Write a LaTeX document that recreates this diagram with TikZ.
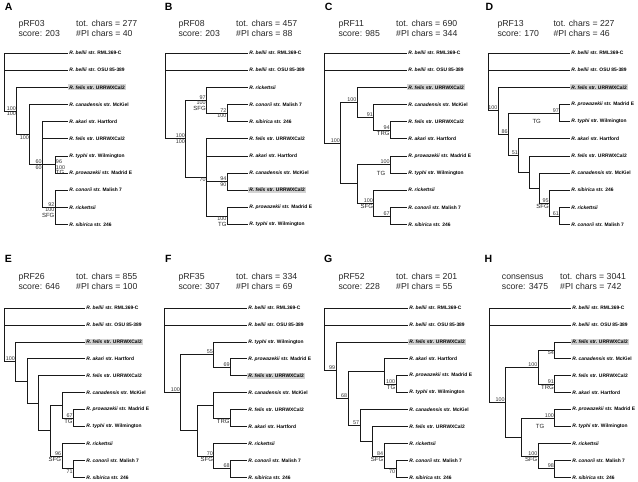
\documentclass[tikz,border=0pt]{standalone}
\usepackage{fontspec}
\setmainfont{Liberation Sans}
\usepackage{tikz}

\newcommand{\lRML}{\textit{R. bellii} str. RML369-C}
\newcommand{\lOSU}{\textit{R. bellii} str. OSU 85-389}
\newcommand{\lFel}{\textit{R. felis} str. URRWXCal2}
\newcommand{\lCan}{\textit{R. canadensis} str. McKiel}
\newcommand{\lAka}{\textit{R. akari} str. Hartford}
\newcommand{\lTyp}{\textit{R. typhi} str. Wilmington}
\newcommand{\lPro}{\textit{R. prowazekii} str. Madrid E}
\newcommand{\lCon}{\textit{R. conorii} str. Malish 7}
\newcommand{\lRic}{\textit{R. rickettsii}}
\newcommand{\lSib}{\textit{R. sibirica} str. 246}

\tikzset{
  br/.style={line width=0.7pt,draw=black!90},
  leaf/.style={anchor=west,inner xsep=1.2pt,inner ysep=1.2pt,font=\fontsize{4.9}{5}\selectfont\bfseries},
  hl/.style={leaf,fill=black!17},
  va/.style={anchor=south east,inner sep=0.6pt,font=\fontsize{5.4}{6}\selectfont,text=black!80},
  vb/.style={va,anchor=north east},
  grp/.style={inner sep=0.6pt,font=\fontsize{6}{7}\selectfont,text=black!85},
  plab/.style={font=\fontsize{10.5}{12}\selectfont\bfseries},
  head/.style={anchor=base west,inner sep=0pt,font=\fontsize{8.7}{10}\selectfont,text=black!85}
}

\begin{document}
\begin{tikzpicture}[x=1pt,y=-1pt]
\useasboundingbox (0,0) rectangle (638,482);

% ---------------- A
\begin{scope}[shift={(0,0)}]
\node[plab] (pA) at (8.7,6.7) {A};
\node[head] (nA) at (18.3,26.7) {pRF03};
\node[head] (sA) at (18.3,36) {score: 203};
\node[head] (tA) at (76,26.7) {tot. chars = 277};
\node[head] (iA) at (76,36) {\#PI chars = 40};
\begin{scope}[shift={(0,35.85)},y=-17.15pt]
\coordinate (aR) at (4,1);
\coordinate (a1) at (16.8,4.375);
\coordinate (a2) at (29.6,5.75);
\coordinate (a3) at (42.4,7.5);
\coordinate (atg) at (55.2,7.5);
\coordinate (asfg) at (55.2,10);
\foreach \t/\s [count=\i] in {\lRML/leaf,\lOSU/leaf,\lFel/hl,\lCan/leaf,\lAka/leaf,\lFel/leaf,\lTyp/leaf,\lPro/leaf,\lCon/leaf,\lRic/leaf,\lSib/leaf}
  \node[\s] (aL\i) at (68,\i) {\t};
\foreach \p/\c in {aR/aL1,aR/aL2,aR/a1,a1/aL3,a1/a2,a2/aL4,a2/a3,a3/aL5,a3/aL6,a3/atg,a3/asfg,atg/aL7,atg/aL8,asfg/aL9,asfg/aL10,asfg/aL11}
  \draw[br] (\p) |- (\c);
\node[va] (a1u) at (a1) {100};
\node[vb] (a1b) at (a1) {100};
\node[vb] (a2b) at (a2) {100};
\node[va] (a3u) at (a3) {60};
\node[vb] (a3b) at (a3) {60};
\node[va,anchor=south west] (atgu) at (atg) {96};
\node[vb,anchor=north west] (atgb) at (atg) {100};
\node[grp,anchor=north west] (atgn) at (atgb.south west) {TG};
\node[va] (asfgu) at (asfg) {92};
\node[vb] (asfgb) at (asfg) {100};
\node[grp,anchor=north east] (asfgn) at (asfgb.south east) {SFG};
\end{scope}
\end{scope}

% ---------------- B
\begin{scope}[shift={(160,0)}]
\node[plab] (pB) at (8.7,6.7) {B};
\node[head] (nB) at (18.3,26.7) {pRF08};
\node[head] (sB) at (18.3,36) {score: 203};
\node[head] (tB) at (76,26.7) {tot. chars = 457};
\node[head] (iB) at (76,36) {\#PI chars = 88};
\begin{scope}[shift={(0,35.85)},y=-17.15pt]
\coordinate (bR) at (5,1);
\coordinate (b1) at (25.75,6);
\coordinate (bsfg) at (46.5,3.75);
\coordinate (bcs) at (67.25,4.5);
\coordinate (b2) at (46.5,8.25);
\coordinate (bcf) at (67.25,8.5);
\coordinate (btg) at (67.25,10.5);
\foreach \t/\s [count=\i] in {\lRML/leaf,\lOSU/leaf,\lRic/leaf,\lCon/leaf,\lSib/leaf,\lFel/leaf,\lAka/leaf,\lCan/leaf,\lFel/hl,\lPro/leaf,\lTyp/leaf}
  \node[\s] (bL\i) at (88,\i) {\t};
\foreach \p/\c in {bR/bL1,bR/bL2,bR/b1,b1/bsfg,b1/b2,bsfg/bL3,bsfg/bcs,bcs/bL4,bcs/bL5,b2/bL6,b2/bL7,b2/bcf,b2/btg,bcf/bL8,bcf/bL9,btg/bL10,btg/bL11}
  \draw[br] (\p) |- (\c);
\node[va] (b1u) at (b1) {100};
\node[vb] (b1b) at (b1) {100};
\node[va] (bsfgu) at (bsfg) {97};
\node[vb] (bsfgb) at (bsfg) {100};
\node[grp,anchor=north east] (bsfgn) at (bsfgb.south east) {SFG};
\node[va] (bcsu) at (bcs) {72};
\node[vb] (bcsb) at (bcs) {100};
\node[vb] (b2b) at (b2) {70};
\node[va] (bcfu) at (bcf) {94};
\node[vb] (bcfb) at (bcf) {90};
\node[vb] (btgb) at (btg) {100};
\node[grp,anchor=north east] (btgn) at (btgb.south east) {TG};
\end{scope}
\end{scope}

% ---------------- C
\begin{scope}[shift={(320,0)}]
\node[plab] (pC) at (8.7,6.7) {C};
\node[head] (nC) at (18.3,26.7) {pRF11};
\node[head] (sC) at (18.3,36) {score: 985};
\node[head] (tC) at (76,26.7) {tot. chars = 690};
\node[head] (iC) at (76,36) {\#PI chars = 344};
\begin{scope}[shift={(0,35.85)},y=-17.15pt]
\coordinate (cR) at (4,1);
\coordinate (c1) at (20.6,6.25);
\coordinate (ca) at (37.2,3.875);
\coordinate (cc) at (53.8,4.75);
\coordinate (ctrg) at (70.4,5.5);
\coordinate (cb) at (37.2,8.625);
\coordinate (ctg) at (70.4,7.5);
\coordinate (csfg) at (53.8,9.75);
\coordinate (cco) at (70.4,10.5);
\foreach \t/\s [count=\i] in {\lRML/leaf,\lOSU/leaf,\lFel/hl,\lCan/leaf,\lFel/leaf,\lAka/leaf,\lPro/leaf,\lTyp/leaf,\lRic/leaf,\lCon/leaf,\lSib/leaf}
  \node[\s] (cL\i) at (87,\i) {\t};
\foreach \p/\c in {cR/cL1,cR/cL2,cR/c1,c1/ca,c1/cb,ca/cL3,ca/cc,cc/cL4,cc/ctrg,ctrg/cL5,ctrg/cL6,cb/ctg,cb/csfg,ctg/cL7,ctg/cL8,csfg/cL9,csfg/cco,cco/cL10,cco/cL11}
  \draw[br] (\p) |- (\c);
\node[va] (c1u) at (c1) {100};
\node[va] (cau) at (ca) {100};
\node[va] (ccu) at (cc) {91};
\node[va] (ctrgu) at (ctrg) {94};
\node[grp,anchor=north east] (ctrgn) at (ctrg) {TRG};
\node[va] (ctgu) at (ctg) {100};
\node[grp] (ctgn) at (61,8) {TG};
\node[va] (csfgu) at (csfg) {100};
\node[grp,anchor=north east] (csfgn) at (csfg) {SFG};
\node[va] (ccou) at (cco) {67};
\end{scope}
\end{scope}

% ---------------- D
\begin{scope}[shift={(480,0)}]
\node[plab] (pD) at (9.5,6.7) {D};
\node[head] (nD) at (17.3,26.7) {pRF13};
\node[head] (sD) at (17.3,36) {score: 170};
\node[head] (tD) at (73.3,26.7) {tot. chars = 227};
\node[head] (iD) at (73.3,36) {\#PI chars = 46};
\begin{scope}[shift={(0,35.85)},y=-17.15pt]
\coordinate (dR) at (8,1);
\coordinate (d1) at (18.25,4.367);
\coordinate (d2) at (28.5,5.734);
\coordinate (dtg) at (79.75,4.5);
\coordinate (d3) at (38.75,6.969);
\coordinate (d4) at (49,7.9375);
\coordinate (d5) at (59.25,8.875);
\coordinate (dsfg) at (69.5,9.75);
\coordinate (d6) at (79.75,10.5);
\foreach \t/\s [count=\i] in {\lRML/leaf,\lOSU/leaf,\lFel/hl,\lPro/leaf,\lTyp/leaf,\lAka/leaf,\lFel/leaf,\lCan/leaf,\lSib/leaf,\lRic/leaf,\lCon/leaf}
  \node[\s] (dL\i) at (90,\i) {\t};
\foreach \p/\c in {dR/dL1,dR/dL2,dR/d1,d1/dL3,d1/d2,d2/dtg,d2/d3,dtg/dL4,dtg/dL5,d3/dL6,d3/d4,d4/dL7,d4/d5,d5/dL8,d5/dsfg,dsfg/dL9,dsfg/d6,d6/dL10,d6/dL11}
  \draw[br] (\p) |- (\c);
\node[va] (d1u) at (d1) {100};
\node[va] (d2u) at (d2) {86};
\node[va] (dtgu) at (dtg) {97};
\node[grp] (dtgn) at (56.7,5) {TG};
\node[va] (d3u) at (d3) {51};
\node[va] (dsfgu) at (dsfg) {95};
\node[grp,anchor=north east] (dsfgn) at (dsfg) {SFG};
\node[va] (d6u) at (d6) {61};
\end{scope}
\end{scope}

% ---------------- E
\begin{scope}[shift={(0,240)}]
\node[plab] (pE) at (8.3,18.8) {E};
\node[head] (nE) at (18.3,39.3) {pRF26};
\node[head] (sE) at (18.3,49.3) {score: 646};
\node[head] (tE) at (76,39.3) {tot. chars = 855};
\node[head] (iE) at (76,49.3) {\#PI chars = 100};
\begin{scope}[shift={(0,51.07)},y=-16.93pt]
\coordinate (eR) at (4,1);
\coordinate (e1) at (15.57,4.156);
\coordinate (e2) at (27.14,5.3125);
\coordinate (e3) at (38.71,6.625);
\coordinate (e4) at (50.29,8.25);
\coordinate (e5) at (61.86,6.75);
\coordinate (etg) at (73.43,7.5);
\coordinate (esfg) at (61.86,9.75);
\coordinate (e6) at (73.43,10.5);
\foreach \t/\s [count=\i] in {\lRML/leaf,\lOSU/leaf,\lFel/hl,\lAka/leaf,\lFel/leaf,\lCan/leaf,\lPro/leaf,\lTyp/leaf,\lRic/leaf,\lCon/leaf,\lSib/leaf}
  \node[\s] (eL\i) at (85,\i) {\t};
\foreach \p/\c in {eR/eL1,eR/eL2,eR/e1,e1/eL3,e1/e2,e2/eL4,e2/e3,e3/eL5,e3/e4,e4/e5,e4/esfg,e5/eL6,e5/etg,etg/eL7,etg/eL8,esfg/eL9,esfg/e6,e6/eL10,e6/eL11}
  \draw[br] (\p) |- (\c);
\node[va] (e1u) at (e1) {100};
\node[va] (etgu) at (etg) {67};
\node[grp,anchor=north east] (etgn) at (etg) {TG};
\node[va] (esfgu) at (esfg) {96};
\node[grp,anchor=north east] (esfgn) at (esfg) {SFG};
\node[vb] (e6b) at (e6) {71};
\end{scope}
\end{scope}

% ---------------- F
\begin{scope}[shift={(160,240)}]
\node[plab] (pF) at (8.3,18.8) {F};
\node[head] (nF) at (18.3,39.3) {pRF35};
\node[head] (sF) at (18.3,49.3) {score: 307};
\node[head] (tF) at (76,39.3) {tot. chars = 334};
\node[head] (iF) at (76,49.3) {\#PI chars = 69};
\begin{scope}[shift={(0,51.07)},y=-16.93pt]
\coordinate (fR) at (4,1);
\coordinate (f1) at (20.6,6);
\coordinate (fa) at (53.8,3.75);
\coordinate (fpf) at (70.4,4.5);
\coordinate (fb) at (37.2,8.25);
\coordinate (fct) at (53.8,6.75);
\coordinate (ftrg) at (70.4,7.5);
\coordinate (fsfg) at (53.8,9.75);
\coordinate (fcs) at (70.4,10.5);
\foreach \t/\s [count=\i] in {\lRML/leaf,\lOSU/leaf,\lTyp/leaf,\lPro/leaf,\lFel/hl,\lCan/leaf,\lFel/leaf,\lAka/leaf,\lRic/leaf,\lCon/leaf,\lSib/leaf}
  \node[\s] (fL\i) at (87,\i) {\t};
\foreach \p/\c in {fR/fL1,fR/fL2,fR/f1,f1/fa,f1/fb,fa/fL3,fa/fpf,fpf/fL4,fpf/fL5,fb/fct,fb/fsfg,fct/fL6,fct/ftrg,ftrg/fL7,ftrg/fL8,fsfg/fL9,fsfg/fcs,fcs/fL10,fcs/fL11}
  \draw[br] (\p) |- (\c);
\node[va] (f1u) at (f1) {100};
\node[va] (fau) at (fa) {55};
\node[va] (fpfu) at (fpf) {69};
\node[grp,anchor=north east] (ftrgn) at (ftrg) {TRG};
\node[va] (fsfgu) at (fsfg) {70};
\node[grp,anchor=north east] (fsfgn) at (fsfg) {SFG};
\node[va] (fcsu) at (fcs) {68};
\end{scope}
\end{scope}

% ---------------- G
\begin{scope}[shift={(320,240)}]
\node[plab] (pG) at (8.3,18.8) {G};
\node[head] (nG) at (18.3,39.3) {pRF52};
\node[head] (sG) at (18.3,49.3) {score: 228};
\node[head] (tG) at (76,39.3) {tot. chars = 201};
\node[head] (iG) at (76,49.3) {\#PI chars = 55};
\begin{scope}[shift={(0,51.07)},y=-16.93pt]
\coordinate (gR) at (4,1);
\coordinate (g1) at (16,4.672);
\coordinate (g2) at (28,6.344);
\coordinate (g3) at (64,4.75);
\coordinate (gtg) at (76,5.5);
\coordinate (g4) at (40,7.9375);
\coordinate (g5) at (52,8.875);
\coordinate (gsfg) at (64,9.75);
\coordinate (g6) at (76,10.5);
\foreach \t/\s [count=\i] in {\lRML/leaf,\lOSU/leaf,\lFel/hl,\lAka/leaf,\lPro/leaf,\lTyp/leaf,\lCan/leaf,\lFel/leaf,\lRic/leaf,\lCon/leaf,\lSib/leaf}
  \node[\s] (gL\i) at (88,\i) {\t};
\foreach \p/\c in {gR/gL1,gR/gL2,gR/g1,g1/gL3,g1/g2,g2/g3,g2/g4,g3/gL4,g3/gtg,gtg/gL5,gtg/gL6,g4/gL7,g4/g5,g5/gL8,g5/gsfg,gsfg/gL9,gsfg/g6,g6/gL10,g6/gL11}
  \draw[br] (\p) |- (\c);
\node[va] (g1u) at (g1) {99};
\node[va] (g2u) at (g2) {68};
\node[va] (gtgu) at (gtg) {100};
\node[grp,anchor=north east] (gtgn) at (gtg) {TG};
\node[va] (g4u) at (g4) {57};
\node[va] (gsfgu) at (gsfg) {84};
\node[grp,anchor=north east] (gsfgn) at (gsfg) {SFG};
\node[vb] (g6b) at (g6) {70};
\end{scope}
\end{scope}

% ---------------- H
\begin{scope}[shift={(480,240)}]
\node[plab] (pH) at (8.3,18.8) {H};
\node[head] (nH) at (21.7,39.3) {consensus};
\node[head] (sH) at (21.7,49.3) {score: 3475};
\node[head] (tH) at (80,39.3) {tot. chars = 3041};
\node[head] (iH) at (80,49.3) {\#PI chars = 742};
\begin{scope}[shift={(0,51.07)},y=-16.93pt]
\coordinate (hR) at (9,1);
\coordinate (h1) at (25.4,6.5625);
\coordinate (ha) at (58.2,4.5);
\coordinate (hfc) at (74.6,3.5);
\coordinate (htrg) at (74.6,5.5);
\coordinate (hb) at (41.8,8.625);
\coordinate (htg) at (74.6,7.5);
\coordinate (hsfg) at (58.2,9.75);
\coordinate (hcs) at (74.6,10.5);
\foreach \t/\s [count=\i] in {\lRML/leaf,\lOSU/leaf,\lFel/hl,\lCan/leaf,\lFel/leaf,\lAka/leaf,\lPro/leaf,\lTyp/leaf,\lRic/leaf,\lCon/leaf,\lSib/leaf}
  \node[\s] (hL\i) at (91,\i) {\t};
\foreach \p/\c in {hR/hL1,hR/hL2,hR/h1,h1/ha,h1/hb,ha/hfc,ha/htrg,hfc/hL3,hfc/hL4,htrg/hL5,htrg/hL6,hb/htg,hb/hsfg,htg/hL7,htg/hL8,hsfg/hL9,hsfg/hcs,hcs/hL10,hcs/hL11}
  \draw[br] (\p) |- (\c);
\node[va] (h1u) at (h1) {100};
\node[va] (hau) at (ha) {100};
\node[vb] (hfcb) at (hfc) {54};
\node[va] (htrgu) at (htrg) {91};
\node[grp,anchor=north east] (htrgn) at (htrg) {TRG};
\node[va] (htgu) at (htg) {100};
\node[grp] (htgn) at (60,8) {TG};
\node[va] (hsfgu) at (hsfg) {100};
\node[grp,anchor=north east] (hsfgn) at (hsfg) {SFG};
\node[va] (hcsu) at (hcs) {98};
\end{scope}
\end{scope}
\end{tikzpicture}
\end{document}
